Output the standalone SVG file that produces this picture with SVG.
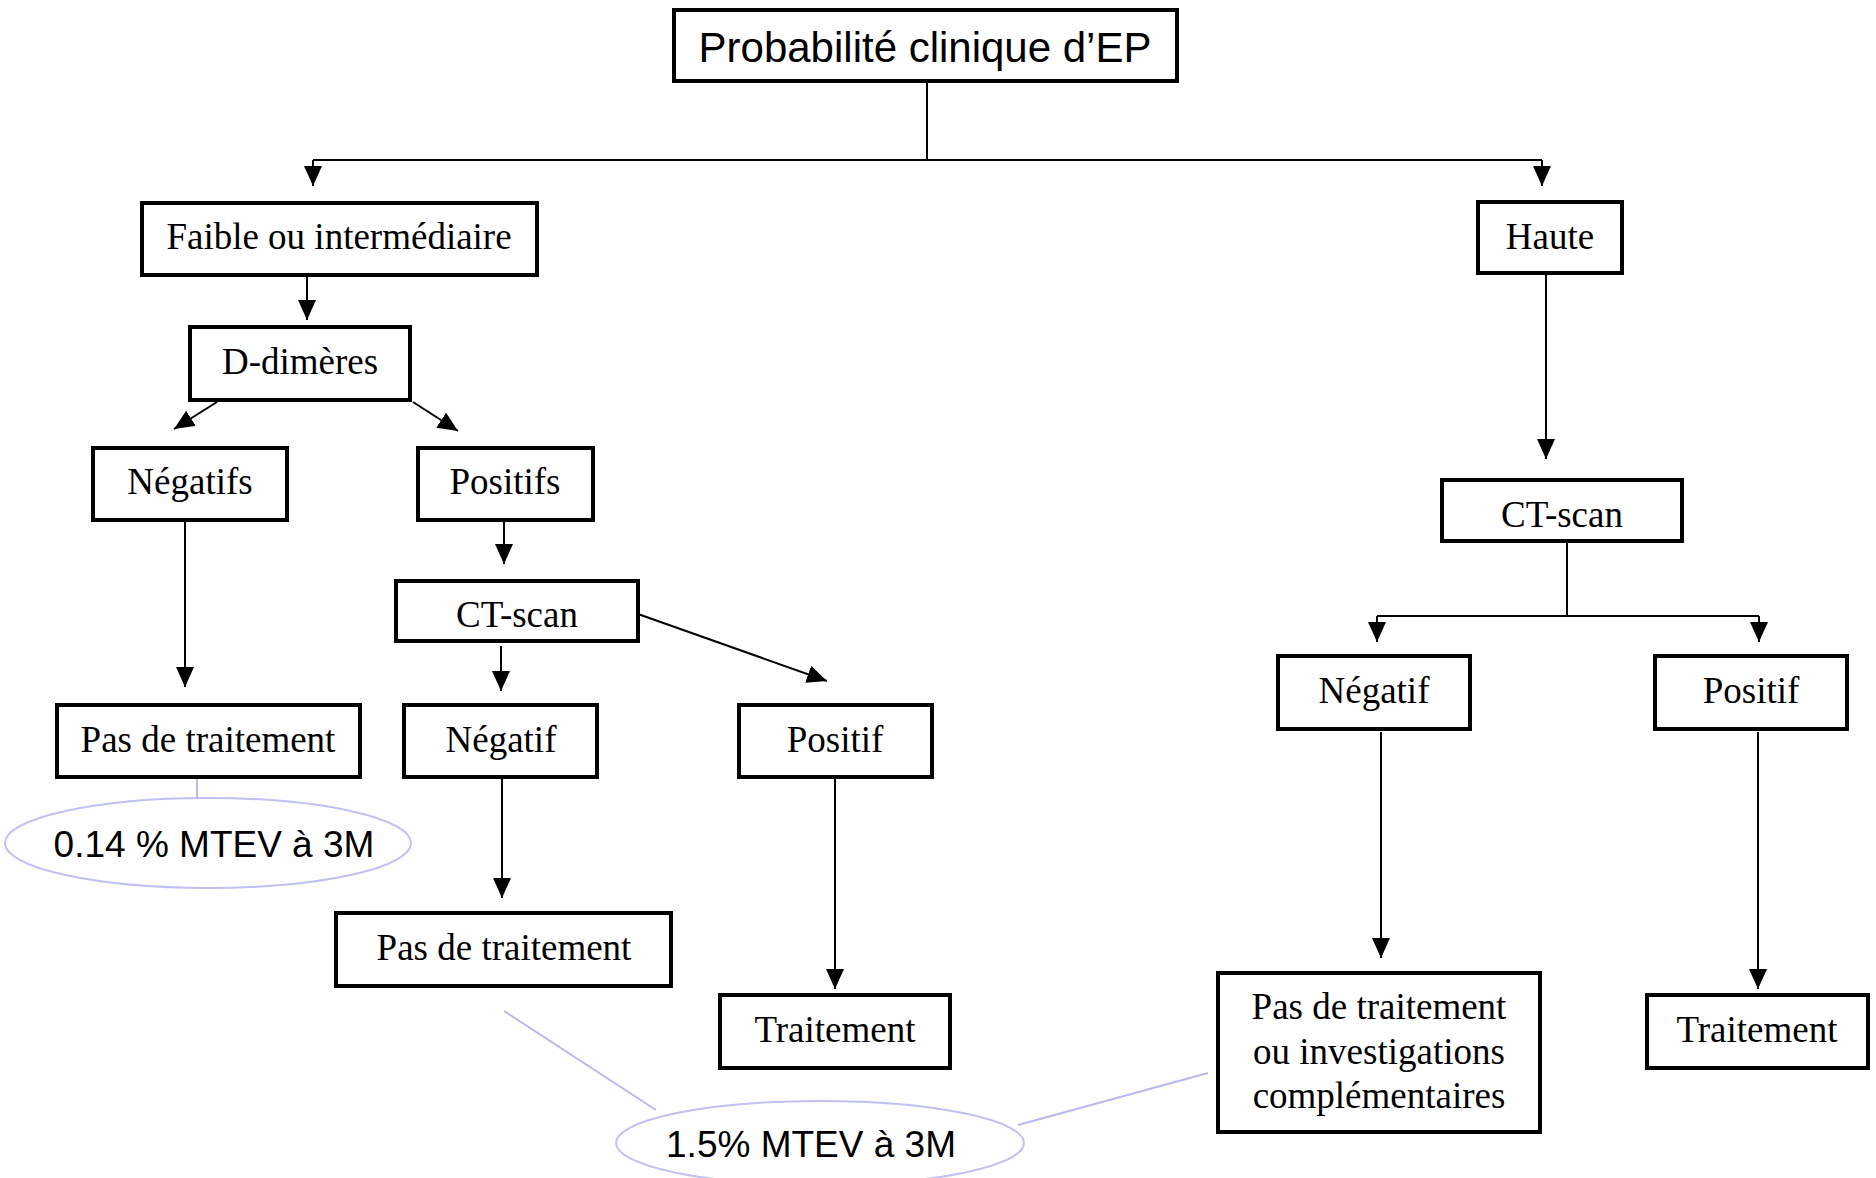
<svg xmlns="http://www.w3.org/2000/svg" width="1876" height="1178" viewBox="0 0 1876 1178">
<style>
.box{fill:#fff;stroke:#000;stroke-width:4}
.t{font-family:"Liberation Serif","Times New Roman",serif;font-size:37px;fill:#000;text-anchor:middle}
.s{font-family:"Liberation Sans",Arial,sans-serif;fill:#000;text-anchor:middle}
.c{fill:none;stroke:#000;stroke-width:2}
.l{fill:none;stroke:#b8b8f0;stroke-width:2}
.e{fill:#fff;stroke:#c0c0f2;stroke-width:2}
</style>
<defs>
<marker id="ah" markerUnits="userSpaceOnUse" markerWidth="20" markerHeight="18" viewBox="0 0 20 18" refX="20" refY="9" orient="auto">
<path d="M0,0 L20,9 L0,18 Z" fill="#000"/>
</marker>
</defs>
<rect width="1876" height="1178" fill="#fff"/>
<g id="connectors">
<path class="c" d="M927,81 V160"/>
<path class="c" d="M313,160 H1542"/>
<path class="c" d="M313,160 V186" marker-end="url(#ah)"/>
<path class="c" d="M1542,160 V186" marker-end="url(#ah)"/>
<path class="c" d="M307,275 V320" marker-end="url(#ah)"/>
<path class="c" d="M217,402 L174,429" marker-end="url(#ah)"/>
<path class="c" d="M413,402 L458,431" marker-end="url(#ah)"/>
<path class="c" d="M185,520 V687" marker-end="url(#ah)"/>
<path class="c" d="M504,520 V564" marker-end="url(#ah)"/>
<path class="c" d="M501,646 V691" marker-end="url(#ah)"/>
<path class="c" d="M638,614 L827,681" marker-end="url(#ah)"/>
<path class="c" d="M502,778 V898" marker-end="url(#ah)"/>
<path class="c" d="M835,778 V989" marker-end="url(#ah)"/>
<path class="c" d="M1546,273 V459" marker-end="url(#ah)"/>
<path class="c" d="M1567,541 V616"/>
<path class="c" d="M1377,616 H1759"/>
<path class="c" d="M1377,616 V642" marker-end="url(#ah)"/>
<path class="c" d="M1759,616 V642" marker-end="url(#ah)"/>
<path class="c" d="M1381,732 V958" marker-end="url(#ah)"/>
<path class="c" d="M1758,732 V989" marker-end="url(#ah)"/>
<path class="l" d="M197,776 V800"/>
<path class="l" d="M504,1011 L656,1110"/>
<path class="l" d="M1018,1125 L1208,1073"/>
</g>
<g id="n-top"><rect class="box" x="674" y="10" width="503" height="71"/><text class="s" x="925" y="62" font-size="42">Probabilité clinique d’EP</text></g>
<g id="n-faible"><rect class="box" x="142" y="203" width="395" height="72"/><text class="t" x="339" y="249">Faible ou intermédiaire</text></g>
<g id="n-ddim"><rect class="box" x="190" y="327" width="220" height="73"/><text class="t" x="300" y="374">D-dimères</text></g>
<g id="n-negatifs"><rect class="box" x="93" y="448" width="194" height="72"/><text class="t" x="190" y="494">Négatifs</text></g>
<g id="n-positifs"><rect class="box" x="418" y="448" width="175" height="72"/><text class="t" x="505" y="494">Positifs</text></g>
<g id="n-ct1"><rect class="box" x="396" y="581" width="242" height="60"/><text class="t" x="517" y="627">CT-scan</text></g>
<g id="n-pdt1"><rect class="box" x="57" y="705" width="303" height="72"/><text class="t" x="208" y="752">Pas de traitement</text></g>
<g id="n-neg1"><rect class="box" x="404" y="705" width="193" height="72"/><text class="t" x="501" y="752">Négatif</text></g>
<g id="n-pos1"><rect class="box" x="739" y="705" width="193" height="72"/><text class="t" x="835" y="752">Positif</text></g>
<g id="n-pdt2"><rect class="box" x="336" y="913" width="335" height="73"/><text class="t" x="504" y="960">Pas de traitement</text></g>
<g id="n-trait1"><rect class="box" x="720" y="995" width="230" height="73"/><text class="t" x="835" y="1042">Traitement</text></g>
<g id="n-haute"><rect class="box" x="1478" y="202" width="144" height="71"/><text class="t" x="1550" y="249">Haute</text></g>
<g id="n-ct2"><rect class="box" x="1442" y="480" width="240" height="61"/><text class="t" x="1562" y="527">CT-scan</text></g>
<g id="n-neg2"><rect class="box" x="1278" y="656" width="192" height="73"/><text class="t" x="1374" y="703">Négatif</text></g>
<g id="n-pos2"><rect class="box" x="1655" y="656" width="192" height="73"/><text class="t" x="1751" y="703">Positif</text></g>
<g id="n-pdt3"><rect class="box" x="1218" y="973" width="322" height="159"/><text class="t" x="1379" y="1019">Pas de traitement</text><text class="t" x="1379" y="1064">ou investigations</text><text class="t" x="1379" y="1108">complémentaires</text></g>
<g id="n-trait2"><rect class="box" x="1647" y="995" width="221" height="73"/><text class="t" x="1757" y="1042">Traitement</text></g>
<g id="n-ell1"><ellipse class="e" cx="208" cy="843" rx="203" ry="45"/><text class="s" x="214" y="857" font-size="37">0.14 % MTEV à 3M</text></g>
<g id="n-ell2"><ellipse class="e" cx="820" cy="1143" rx="204" ry="42"/><text class="s" x="811" y="1157" font-size="37">1.5% MTEV à 3M</text></g>
</svg>
